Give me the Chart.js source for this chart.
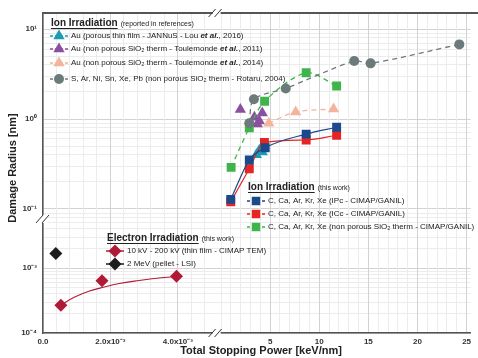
<!DOCTYPE html>
<html>
<head>
<meta charset="utf-8">
<script src="https://cdn.jsdelivr.net/npm/chart.js@4.4.1/dist/chart.umd.min.js"></script>
<style>
  body { margin: 0; background: #fff; }
  canvas { display: block; }
</style>
</head>
<body>
<canvas id="chart" width="478" height="358"></canvas>
<script>
const FONT = '"Liberation Sans", Arial, sans-serif';

/* ================= DATA ================= */
// ion irradiation - reported in references (upper panel, x in keV/nm, y in nm)
const tealX = [3.6, 3.9, 4.2];
const tealY = [0.40, 0.45, 0.43];
const purpleX = [1.97, 3.4, 3.7, 3.9, 4.2];
const purpleY = [1.28, 1.05, 0.88, 0.95, 1.17];
const salmonX = [4.87, 7.6, 11.46];
const salmonY = [0.90, 1.20, 1.29];
const grayX = [2.88, 3.35, 6.59, 13.56, 15.23, 24.26];
const grayY = [0.90, 1.66, 2.19, 4.41, 4.16, 6.76];

// ion irradiation - this work
const blueX = [0.99, 2.88, 4.5, 8.67, 11.77];
const blueY = [0.128, 0.35, 0.48, 0.68, 0.81];
const redX = [0.99, 2.88, 4.42, 8.67, 11.77];
const redY = [0.12, 0.28, 0.55, 0.585, 0.66];
const greenX = [1.03, 2.88, 4.44, 8.67, 11.77];
const greenY = [0.29, 0.80, 1.58, 3.27, 2.33];

// electron irradiation (lower panel)
const elecX = [0.00053, 0.00175, 0.00396];
const elecY = [0.000267, 0.00064, 0.00075];
const elecFitX = [0.00053, 0.00094, 0.00138, 0.00182, 0.00226, 0.00285, 0.00344, 0.00397];
const elecFitY = [0.000270, 0.000358, 0.000443, 0.000510, 0.000578, 0.000643, 0.000702, 0.000740];
const mevX = [0.00038];
const mevY = [0.00168];

/* ================= TICKS ================= */
const yUpperTicks = [0.1, 1, 10];
const yUpperText = ["10\u207B\u00B9", "10\u2070", "10\u00B9"];
const yLowerTicks = [0.0001, 0.001];
const yLowerText = ["10\u207B\u2074", "10\u207B\u00B3"];
const xLeftTicks = [0, 0.002, 0.004];
const xLeftText = ["0.0", "2.0x10\u207B\u00B3", "4.0x10\u207B\u00B3"];
const xRightTicks = [5, 10, 15, 20, 25];
const xRightText = ["5", "10", "15", "20", "25"];

// grid lines (1..9 per decade, regular steps on x)
function logGrid(lo, hi, maxV) {
    const out = [];
    for (let e = lo; e <= hi; e++)
        for (let k = 1; k <= 9; k++) {
            const v = k * Math.pow(10, e);
            if (v <= maxV) out.push(v);
        }
    return out;
}
const yUpperGrid = [0.08, 0.09].concat(logGrid(-1, 0, 10), [10]);
const yLowerGrid = logGrid(-4, -3, 0.0058);
const xLeftGrid = [];
for (let i = 0; i <= 12; i++) xLeftGrid.push(i * 0.0004);
const xRightGrid = [];
for (let i = 0; i <= 25; i++) xRightGrid.push(i);

function near(a, b) { return Math.abs(a - b) <= Math.abs(b) * 1e-6 + 1e-12; }
function labelFor(list, text) {
    return v => {
        const i = list.findIndex(t => near(v, t));
        return i < 0 ? "" : text[i];
    };
}
function gridFor(list) {
    return c => (c.tick && list.some(t => near(c.tick.value, t))) ? "#d2d2d2" : "#ececec";
}
const tickFont = { family: FONT, size: 8, weight: "bold" };

function pts(xs, ys) { return xs.map((x, i) => ({ x, y: ys[i] })); }

/* ================= COLOURS ================= */
const C = {
    teal: "#1c9cb2", purple: "#8a4f9e", salmon: "#f4b39b", gray: "#6b7a7b",
    blue: "#1b4a8c", red: "#e52424", green: "#3fb44b", crimson: "#b01a36", black: "#1c1c1c"
};

/* ================= OVERLAY (legends, titles, breaks) ================= */
function runs(ctx, x, y, parts) {
    parts.forEach(p => {
        ctx.font = p[1];
        ctx.fillText(p[0], x, y);
        x += ctx.measureText(p[0]).width;
    });
    return x;
}
function legendTitle(ctx, x, y, title, sub) {
    ctx.fillStyle = "#222";
    ctx.font = "bold 10px " + FONT;
    ctx.fillText(title, x, y);
    const w = ctx.measureText(title).width;
    ctx.fillRect(x, y + 5, w, 1);
    ctx.font = "7px " + FONT;
    ctx.fillText(sub, x + w + 3, y + 1);
}
function legendRow(ctx, x, y, color, style, radius, dashed, parts) {
    ctx.save();
    ctx.strokeStyle = color;
    ctx.lineWidth = 1.5;
    if (dashed) ctx.setLineDash([3, 2]);
    ctx.beginPath();
    ctx.moveTo(x - 9, y);
    ctx.lineTo(x + 9, y);
    ctx.stroke();
    ctx.setLineDash([]);
    ctx.fillStyle = color;
    Chart.helpers.drawPoint(ctx, { pointStyle: style, radius: radius, rotation: 0, borderWidth: 0 }, x, y);
    ctx.fillStyle = "#222";
    runs(ctx, x + 12, y, parts);
    ctx.restore();
}
function breakMark(ctx, cx, cy, vertical) {
    ctx.save();
    ctx.fillStyle = "#fff";
    if (vertical) ctx.fillRect(cx - 4, cy - 4, 8, 8);
    else ctx.fillRect(cx - 4, cy - 3, 8, 6);
    ctx.strokeStyle = "#333";
    ctx.lineWidth = 1;
    ctx.beginPath();
    ctx.moveTo(cx - 8, cy + 4); ctx.lineTo(cx - 1, cy - 4);
    ctx.moveTo(cx - 2, cy + 4); ctx.lineTo(cx + 5, cy - 4);
    ctx.stroke();
    ctx.restore();
}

const overlay = {
    id: "overlay",
    afterDraw(chart) {
        const ctx = chart.ctx;
        const a = chart.chartArea;
        const n = "8px " + FONT;
        const bi = "bold italic 8px " + FONT;

        // top frame line
        ctx.save();
        ctx.strokeStyle = "#555";
        ctx.lineWidth = 2;
        ctx.beginPath();
        ctx.moveTo(a.left, a.top);
        ctx.lineTo(chart.width, a.top);
        ctx.stroke();

        // axis breaks
        const splitX = chart.scales.xL.right;
        const splitY = chart.scales.yU.bottom;
        breakMark(ctx, splitX, a.top, false);
        breakMark(ctx, splitX, a.bottom, false);
        breakMark(ctx, a.left + 1, splitY + 1, true);

        ctx.textBaseline = "middle";
        ctx.textAlign = "left";

        // legend - reported in references
        legendTitle(ctx, 51, 23, "Ion Irradiation", "(reported in references)");
        legendRow(ctx, 59, 36, C.teal, "triangle", 6.5, true,
            [["Au (porous thin film - JANNuS - Lou ", n], ["et al.", bi], [", 2016)", n]]);
        legendRow(ctx, 59, 49, C.purple, "triangle", 6.5, true,
            [["Au (non porous SiO\u2082 therm - Toulemonde ", n], ["et al.", bi], [", 2011)", n]]);
        legendRow(ctx, 59, 63, C.salmon, "triangle", 6.5, true,
            [["Au (non porous SiO\u2082 therm - Toulemonde ", n], ["et al.", bi], [", 2014)", n]]);
        legendRow(ctx, 59, 79, C.gray, "circle", 5, true,
            [["S, Ar, Ni, Sn, Xe, Pb (non porous SiO\u2082 therm - Rotaru, 2004)", n]]);

        // legend - ion irradiation this work
        legendTitle(ctx, 248, 187, "Ion Irradiation", "(this work)");
        legendRow(ctx, 256, 201, C.blue, "rect", 6, true,
            [["C, Ca, Ar, Kr, Xe (IPc - CIMAP/GANIL)", n]]);
        legendRow(ctx, 256, 214, C.red, "rect", 6, true,
            [["C, Ca, Ar, Kr, Xe (ICc - CIMAP/GANIL)", n]]);
        legendRow(ctx, 256, 227, C.green, "rect", 6, true,
            [["C, Ca, Ar, Kr, Xe (non porous SiO\u2082 therm - CIMAP/GANIL)", n]]);

        // legend - electron irradiation
        legendTitle(ctx, 107, 238, "Electron Irradiation", "(this work)");
        legendRow(ctx, 115, 251, C.crimson, "rectRot", 6.5, false,
            [["10 kV - 200 kV (thin film - CIMAP TEM)", n]]);
        legendRow(ctx, 115, 264, C.black, "rectRot", 6.5, false,
            [["2 MeV (pellet - LSI)", n]]);

        // axis titles
        ctx.fillStyle = "#222";
        ctx.font = "bold 11px " + FONT;
        ctx.textAlign = "center";
        ctx.fillText("Total Stopping Power [keV/nm]", 261, 351);
        ctx.translate(13, 168);
        ctx.rotate(-Math.PI / 2);
        ctx.fillText("Damage Radius [nm]", 0, 0);
        ctx.restore();
    }
};

/* ================= CHART ================= */
function series(label, xs, ys, color, style, radius, xAxis, yAxis, line) {
    return Object.assign({
        label, data: pts(xs, ys), xAxisID: xAxis, yAxisID: yAxis,
        backgroundColor: color, borderColor: color, pointStyle: style,
        pointRadius: radius, pointBorderWidth: 0, borderWidth: 1.3, showLine: false
    }, line || {});
}
const dash = { showLine: true, borderDash: [5, 4], tension: 0.3 };
const solid = { showLine: true, tension: 0.4, cubicInterpolationMode: "monotone", borderWidth: 1.2 };

new Chart(document.getElementById("chart"), {
    type: "scatter",
    data: {
        datasets: [
            series("S, Ar, Ni, Sn, Xe, Pb", grayX, grayY, C.gray, "circle", 5, "xR", "yU", dash),
            series("non porous SiO2 this work", greenX, greenY, C.green, "rect", 6.3, "xR", "yU", dash),
            series("Au 2014", salmonX, salmonY, C.salmon, "triangle", 6.5, "xR", "yU", dash),
            series("Au 2011", purpleX, purpleY, C.purple, "triangle", 6.5, "xR", "yU"),
            series("IPc", blueX, blueY, C.blue, "rect", 6.3, "xR", "yU", solid),
            series("ICc", redX, redY, C.red, "rect", 6.3, "xR", "yU", solid),
            series("Au 2016", tealX, tealY, C.teal, "triangle", 6.5, "xR", "yU"),
            series("fit", elecFitX, elecFitY, C.crimson, "circle", 0, "xL", "yL",
                { showLine: true, tension: 0.4, borderWidth: 1.1 }),
            series("10 kV - 200 kV", elecX, elecY, C.crimson, "rectRot", 6.5, "xL", "yL"),
            series("2 MeV", mevX, mevY, C.black, "rectRot", 6.5, "xL", "yL")
        ]
    },
    options: {
        responsive: false,
        animation: false,
        devicePixelRatio: 1,
        layout: { padding: { left: 0, top: 13, right: 4, bottom: 0 } },
        plugins: { legend: { display: false }, tooltip: { enabled: false } },
        scales: {
            // left boxes are stacked in reverse order: lower panel first
            yL: {
                type: "logarithmic", position: "left", stack: "y", stackWeight: 115,
                min: 0.0001, max: 0.0059,
                afterBuildTicks: s => { s.ticks = yLowerGrid.map(v => ({ value: v })); },
                afterFit: s => { s.width = 43; },
                grid: { color: gridFor(yLowerTicks), drawTicks: false },
                border: { color: "#555", width: 1.5 },
                ticks: { autoSkip: false, padding: 6, font: tickFont, color: "#333",
                    callback: labelFor(yLowerTicks, yLowerText) }
            },
            yU: {
                type: "logarithmic", position: "left", stack: "y", stackWeight: 205,
                min: 0.0794, max: 15.1,
                afterBuildTicks: s => { s.ticks = yUpperGrid.map(v => ({ value: v })); },
                afterFit: s => { s.width = 43; },
                grid: { color: gridFor(yUpperTicks), drawTicks: false },
                border: { color: "#555", width: 1.5 },
                ticks: { autoSkip: false, padding: 6, font: tickFont, color: "#333",
                    callback: labelFor(yUpperTicks, yUpperText) }
            },
            xL: {
                type: "linear", position: "bottom", stack: "x", stackWeight: 175,
                min: 0, max: 0.00515,
                afterBuildTicks: s => { s.ticks = xLeftGrid.map(v => ({ value: v })); },
                afterFit: s => { s.height = 25; },
                grid: { color: gridFor(xLeftTicks), drawTicks: false },
                border: { color: "#555", width: 1.5 },
                ticks: { autoSkip: false, maxRotation: 0, padding: 4, font: tickFont, color: "#333",
                    callback: labelFor(xLeftTicks, xLeftText) }
            },
            xR: {
                type: "linear", position: "bottom", stack: "x", stackWeight: 256,
                min: -0.45, max: 25.4,
                afterBuildTicks: s => { s.ticks = xRightGrid.map(v => ({ value: v })); },
                afterFit: s => { s.height = 25; },
                grid: { color: gridFor(xRightTicks), drawTicks: false },
                border: { color: "#555", width: 1.5 },
                ticks: { autoSkip: false, maxRotation: 0, padding: 4, font: tickFont, color: "#333",
                    callback: labelFor(xRightTicks, xRightText) }
            }
        }
    },
    plugins: [overlay]
});
</script>
</body>
</html>
